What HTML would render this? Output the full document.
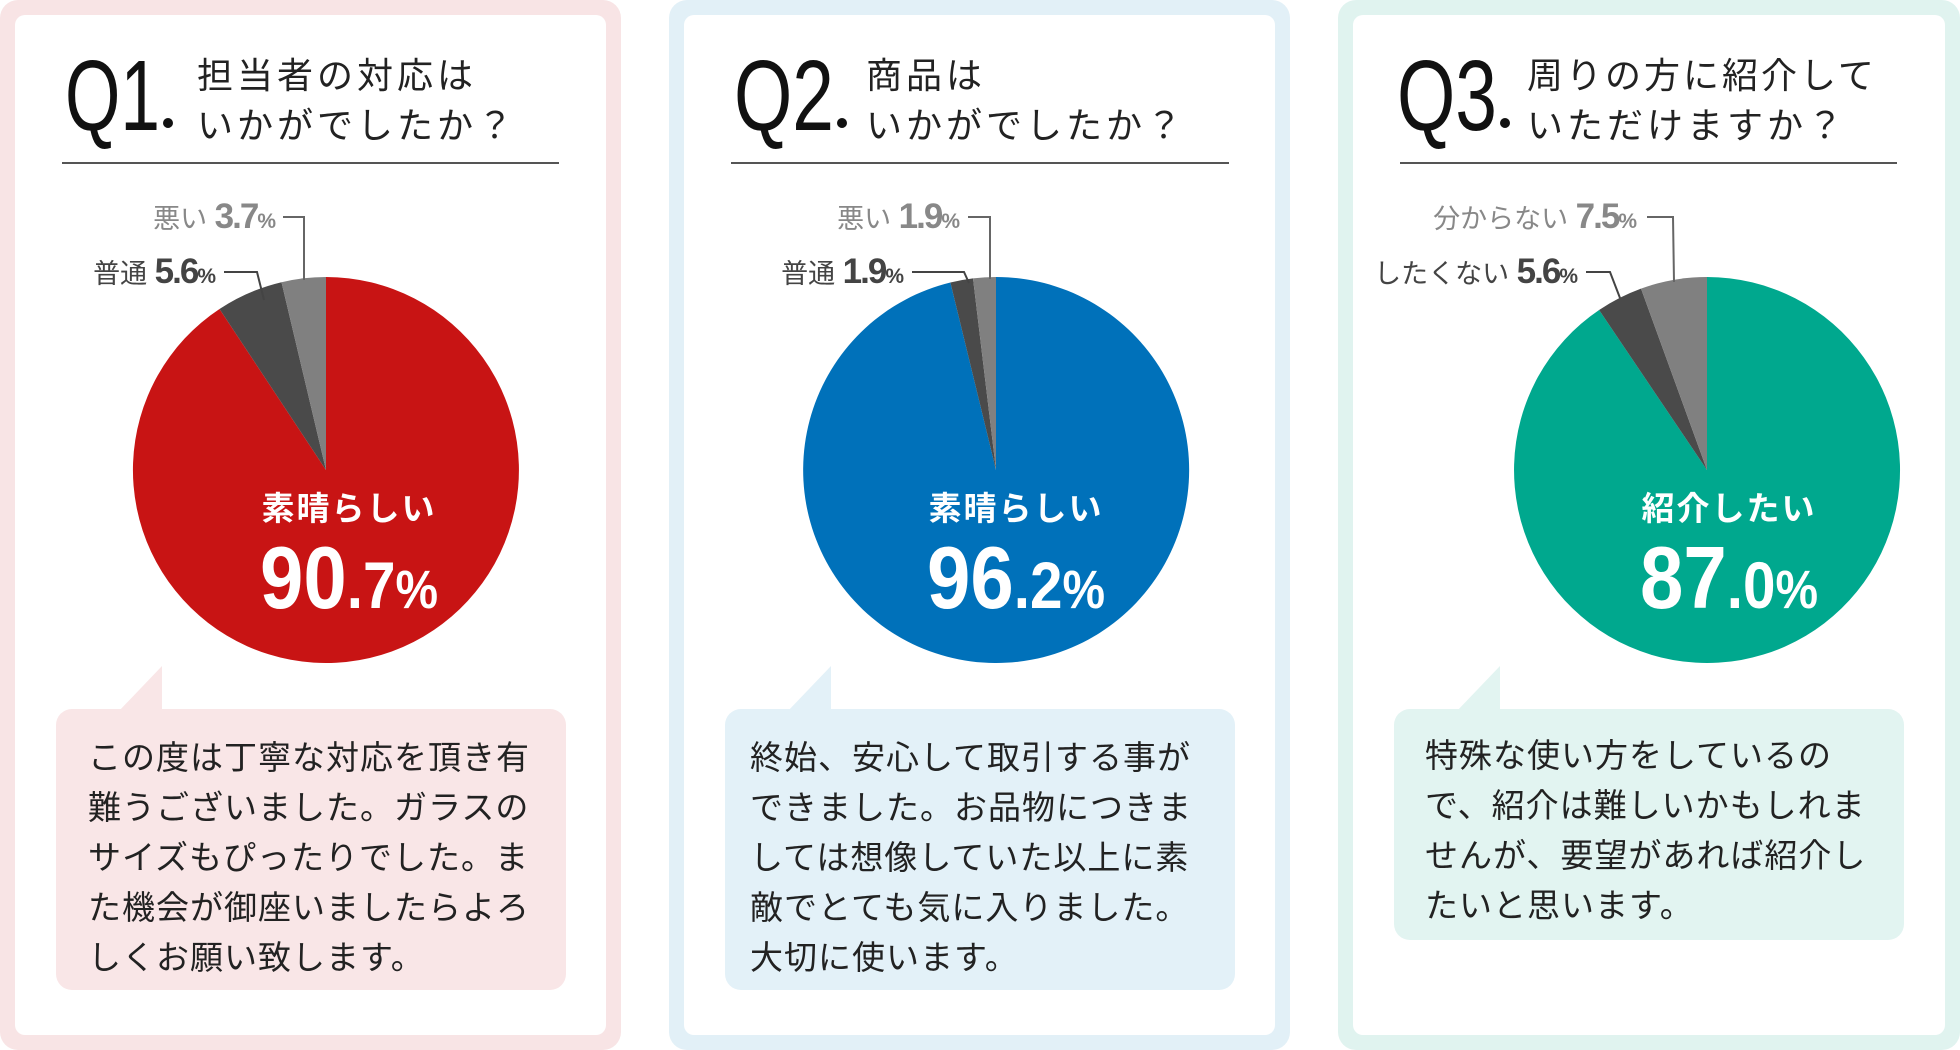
<!DOCTYPE html>
<html><head><meta charset="utf-8"><style>
html,body{margin:0;padding:0;background:#fff;}
svg{display:block;}
.jp{font-family:"Liberation Sans","Noto Sans CJK JP",sans-serif;}
</style></head><body>
<svg width="1960" height="1050" viewBox="0 0 1960 1050" xmlns="http://www.w3.org/2000/svg" class="jp">
<rect x="0" y="0" width="621" height="1050" rx="18" fill="#f8e4e5"/>
<rect x="15" y="15" width="591" height="1020" rx="10" fill="#fff"/>
<rect x="669" y="0" width="621" height="1050" rx="18" fill="#e2f0f7"/>
<rect x="684" y="15" width="591" height="1020" rx="10" fill="#fff"/>
<rect x="1338" y="0" width="622" height="1050" rx="18" fill="#e0f3ef"/>
<rect x="1353" y="15" width="592" height="1020" rx="10" fill="#fff"/>

<g font-family="Liberation Sans, Noto Sans CJK JP, sans-serif">
<text x="65" y="130" font-size="100" fill="#111" textLength="95" lengthAdjust="spacingAndGlyphs">Q1</text>
<circle cx="168" cy="123" r="5" fill="#111"/>
<text x="197" y="88" font-size="36" fill="#222" letter-spacing="4">担当者の対応は</text>
<text x="197" y="138" font-size="36" fill="#222" letter-spacing="4">いかがでしたか？</text>
<line x1="62" y1="163" x2="559" y2="163" stroke="#555" stroke-width="2"/>

<text x="734" y="130" font-size="100" fill="#111" textLength="100" lengthAdjust="spacingAndGlyphs">Q2</text>
<circle cx="842" cy="123" r="5" fill="#111"/>
<text x="866" y="88" font-size="36" fill="#222" letter-spacing="4">商品は</text>
<text x="866" y="138" font-size="36" fill="#222" letter-spacing="4">いかがでしたか？</text>
<line x1="731" y1="163" x2="1229" y2="163" stroke="#555" stroke-width="2"/>

<text x="1397" y="130" font-size="100" fill="#111" textLength="100" lengthAdjust="spacingAndGlyphs">Q3</text>
<circle cx="1505" cy="123" r="5" fill="#111"/>
<text x="1527" y="88" font-size="36" fill="#222" letter-spacing="3">周りの方に紹介して</text>
<text x="1527" y="138" font-size="36" fill="#222" letter-spacing="4">いただけますか？</text>
<line x1="1400" y1="163" x2="1897" y2="163" stroke="#555" stroke-width="2"/>

<path d="M326,470 L326,277 A193,193 0 1,1 219.5,309 Z" fill="#c81414"/>
<path d="M326,470 L219.5,309 A193,193 0 0,1 281.5,282.2 Z" fill="#4a4a4a"/>
<path d="M326,470 L281.5,282.2 A193,193 0 0,1 326,277 Z" fill="#808080"/>
<path d="M996,470 L996,277 A193,193 0 1,1 950.4,282.5 Z" fill="#0071ba"/>
<path d="M996,470 L950.4,282.5 A193,193 0 0,1 973,278.4 Z" fill="#4a4a4a"/>
<path d="M996,470 L973,278.4 A193,193 0 0,1 996,277 Z" fill="#808080"/>
<path d="M1707,470 L1707,277 A193,193 0 1,1 1599.1,310 Z" fill="#00a88e"/>
<path d="M1707,470 L1599.1,310 A193,193 0 0,1 1641,288.6 Z" fill="#4a4a4a"/>
<path d="M1707,470 L1641,288.6 A193,193 0 0,1 1707,277 Z" fill="#808080"/>

<g font-size="27">
<text x="276" y="228" text-anchor="end" fill="#888">悪い <tspan font-weight="bold" font-size="35" letter-spacing="-2">3.7</tspan><tspan font-size="21" font-weight="bold">%</tspan></text>
<polyline points="283,217 304,217 304,280" fill="none" stroke="#666" stroke-width="2"/>
<text x="216" y="283" text-anchor="end" fill="#444">普通 <tspan font-weight="bold" font-size="35" letter-spacing="-2">5.6</tspan><tspan font-size="21" font-weight="bold">%</tspan></text>
<polyline points="224,272 257,272 264,300" fill="none" stroke="#444" stroke-width="2"/>

<text x="960" y="228" text-anchor="end" fill="#888">悪い <tspan font-weight="bold" font-size="35" letter-spacing="-2">1.9</tspan><tspan font-size="21" font-weight="bold">%</tspan></text>
<polyline points="968,217 990,217 990,279" fill="none" stroke="#666" stroke-width="2"/>
<text x="904" y="283" text-anchor="end" fill="#444">普通 <tspan font-weight="bold" font-size="35" letter-spacing="-2">1.9</tspan><tspan font-size="21" font-weight="bold">%</tspan></text>
<polyline points="912,272 964,272 969,283" fill="none" stroke="#444" stroke-width="2"/>

<text x="1637" y="228" text-anchor="end" fill="#888">分からない <tspan font-weight="bold" font-size="35" letter-spacing="-2">7.5</tspan><tspan font-size="21" font-weight="bold">%</tspan></text>
<polyline points="1647,217 1673,217 1674,282" fill="none" stroke="#666" stroke-width="2"/>
<text x="1578" y="283" text-anchor="end" fill="#444">したくない <tspan font-weight="bold" font-size="35" letter-spacing="-2">5.6</tspan><tspan font-size="21" font-weight="bold">%</tspan></text>
<polyline points="1586,272 1610,272 1620,298" fill="none" stroke="#444" stroke-width="2"/>
</g>

<g fill="#fff" font-weight="bold" text-anchor="middle">
<text x="349" y="520" font-size="33" letter-spacing="2">素晴らしい</text>
<text x="349" y="608" font-size="88" textLength="178" lengthAdjust="spacingAndGlyphs">90<tspan font-size="66">.7</tspan><tspan font-size="54">%</tspan></text>
<text x="1016" y="520" font-size="33" letter-spacing="2">素晴らしい</text>
<text x="1016" y="608" font-size="88" textLength="178" lengthAdjust="spacingAndGlyphs">96<tspan font-size="66">.2</tspan><tspan font-size="54">%</tspan></text>
<text x="1729" y="520" font-size="33" letter-spacing="2">紹介したい</text>
<text x="1729" y="608" font-size="88" textLength="178" lengthAdjust="spacingAndGlyphs">87<tspan font-size="66">.0</tspan><tspan font-size="54">%</tspan></text>
</g>

<rect x="56" y="709" width="510" height="281" rx="16" fill="#f9e6e7"/>
<polygon points="162,666 162,712 118,712" fill="#f9e6e7"/>
<rect x="725" y="709" width="510" height="281" rx="16" fill="#e3f1f8"/>
<polygon points="831,666 831,712 787,712" fill="#e3f1f8"/>
<rect x="1394" y="709" width="510" height="231" rx="16" fill="#e2f4f1"/>
<polygon points="1500,666 1500,712 1456,712" fill="#e2f4f1"/>

<g font-size="33" fill="#222" letter-spacing="1">
<text x="88" y="769">この度は丁寧な対応を頂き有</text>
<text x="88" y="819">難うございました。ガラスの</text>
<text x="88" y="869">サイズもぴったりでした。ま</text>
<text x="88" y="919">た機会が御座いましたらよろ</text>
<text x="88" y="969">しくお願い致します。</text>

<text x="750" y="769">終始、安心して取引する事が</text>
<text x="750" y="819">できました。お品物につきま</text>
<text x="750" y="869">しては想像していた以上に素</text>
<text x="750" y="919">敵でとても気に入りました。</text>
<text x="750" y="969">大切に使います。</text>

<text x="1425" y="767">特殊な使い方をしているの</text>
<text x="1425" y="817">で、紹介は難しいかもしれま</text>
<text x="1425" y="867">せんが、要望があれば紹介し</text>
<text x="1425" y="917">たいと思います。</text>
</g>
</g>
</svg>
</body></html>
